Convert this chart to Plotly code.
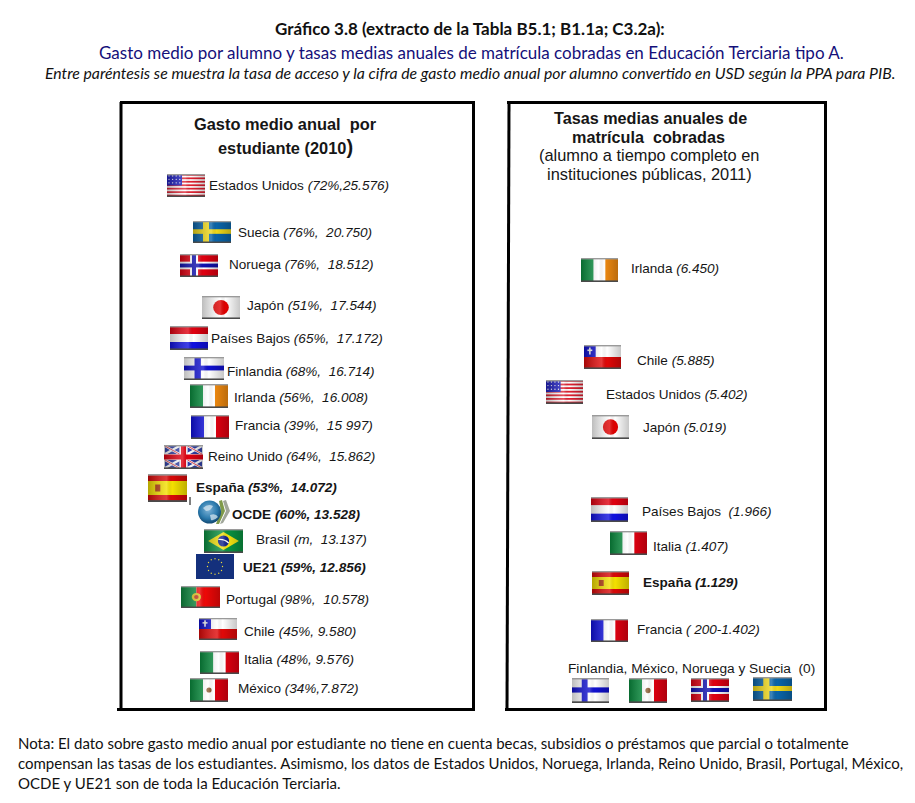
import base64
import math
import plotly.graph_objects as go

# ---- data ----
gasto_paises = ["Estados Unidos", "Suecia", "Noruega", "Japón", "Países Bajos", "Finlandia", "Irlanda",
                "Francia", "Reino Unido", "España", "OCDE", "Brasil", "UE21", "Portugal", "Chile", "Italia", "México"]
gasto_acceso = ["72%", "76%", "76%", "51%", "65%", "68%", "56%", "39%", "64%", "53%", "60%", "m", "59%", "98%", "45%", "48%", "34%"]
gasto_usd = ["25.576", "20.750", "18.512", "17.544", "17.172", "16.714", "16.008", "15 997", "15.862",
             "14.072", "13.528", "13.137", "12.856", "10.578", "9.580", "9.576", "7.872"]
tasa_paises = ["Irlanda", "Chile", "Estados Unidos", "Japón", "Países Bajos", "Italia", "España", "Francia"]
tasa_valor = ["6.450", "5.885", "5.402", "5.019", "1.966", "1.407", "1.129", " 200-1.402"]
tasa_cero = ["Finlandia", "México", "Noruega", "Suecia"]

titulo = "Gráfico 3.8 (extracto de la Tabla B5.1; B1.1a; C3.2a):"
subtitulo = "Gasto medio por alumno y tasas medias anuales de matrícula cobradas en Educación Terciaria tipo A."
aclaracion = "Entre paréntesis se muestra la tasa de acceso y la cifra de gasto medio anual por alumno convertido en USD según la PPA para PIB."
nota = ["Nota: El dato sobre gasto medio anual por estudiante no tiene en cuenta becas, subsidios o préstamos que parcial o totalmente",
        "compensan las tasas de los estudiantes. Asimismo, los datos de Estados Unidos, Noruega, Irlanda, Reino Unido, Brasil, Portugal, México,",
        "OCDE y UE21 son de toda la Educación Terciaria."]

# ---- layout (pixel places on the page axes) ----
# name: flag left, flag top, flag width, flag height, text x, text y, separator
NB = "\u00a0"
place_gasto = {
    "Estados Unidos": (167, 174, 38, 23, 209, 185, ","),
    "Suecia": (193, 221, 38, 22, 238, 232, ", " + NB),
    "Noruega": (180, 254, 38, 23, 229, 264, ", " + NB),
    "Japón": (202, 296, 38, 23, 247, 305, ", " + NB),
    "Países Bajos": (170, 326, 38, 24, 211, 338, ", " + NB),
    "Finlandia": (184, 357, 40, 23, 227, 371, ", " + NB),
    "Irlanda": (190, 384, 38, 24, 234, 397, ", " + NB),
    "Francia": (191, 415, 38, 24, 235, 425, ", " + NB),
    "Reino Unido": (164, 445, 39, 24, 208, 456, ", " + NB),
    "España": (148, 474, 39, 28, 196, 487, ", " + NB),
    "OCDE": (198, 499, 32, 26, 232, 514, ", "),
    "Brasil": (204, 529, 39, 24, 256, 539, ", " + NB),
    "UE21": (196, 554, 38, 25, 243, 567, ", "),
    "Portugal": (181, 586, 39, 22, 226, 599, ", " + NB),
    "Chile": (199, 618, 38, 22, 244, 631, ", "),
    "Italia": (200, 651, 39, 23, 244, 659, ", "),
    "México": (190, 678, 38, 24, 238, 688, ","),
}
place_tasa = {
    "Irlanda": (581, 258, 37, 24, 631, 268, " "),
    "Chile": (584, 345, 37, 24, 637, 360, " "),
    "Estados Unidos": (546, 380, 37, 24, 606, 394, " "),
    "Japón": (592, 415, 37, 24, 643, 427, " "),
    "Países Bajos": (591, 497, 37, 25, 642, 511, " " + NB),
    "Italia": (610, 531, 37, 24, 653, 546, " "),
    "España": (592, 571, 37, 24, 643, 582, " "),
    "Francia": (591, 619, 37, 23, 637, 629, " "),
}
place_cero = {"Finlandia": (572, 678, 37, 25), "México": (629, 678, 38, 25),
              "Noruega": (691, 678, 38, 24), "Suecia": (753, 677, 39, 24)}
BOLD = {"España", "OCDE", "UE21"}
INK = "#161616"
SANS = "Liberation Sans"
CAL = "Lato"
LABEL = 13.55


def rect(x, y, w, h, c):
    return f'<rect x="{x}" y="{y}" width="{w}" height="{h}" fill="{c}"/>'


def cross(bg, c1, c2=None):
    s = rect(0, 0, 38, 24, bg) + rect(10, 0, 8, 24, c1) + rect(0, 8, 38, 8, c1)
    if c2:
        s += rect(12, 0, 4, 24, c2) + rect(0, 10, 38, 4, c2)
    return s


def flag_body(n):
    R, G, B = "#e00010", "#0a9040", "#1010e0"
    if n == "Estados Unidos":
        s = rect(0, 0, 38, 24, "#ffffff")
        for i in range(0, 7):
            s += rect(0, i * 3.6, 38, 1.8, "#e02030")
        s += rect(0, 0, 15, 12, "#2020c0")
        for i in range(4):
            for j in range(3):
                s += f'<circle cx="{2 + i * 3.6}" cy="{2 + j * 3.6}" r="0.7" fill="#fff"/>'
        return s
    if n == "Suecia":
        return rect(0, 0, 38, 24, "#0a64a8") + rect(10, 0, 6, 24, "#f0d818") + rect(0, 9, 38, 5, "#f0d818")
    if n == "Noruega":
        return cross(R, "#ffffff", "#1010b0")
    if n == "Finlandia":
        return rect(0, 0, 38, 24, "#ffffff") + rect(10, 0, 6, 24, "#1010d0") + rect(0, 9, 38, 5, "#1010d0")
    if n == "Japón":
        return rect(0, 0, 38, 24, "#ffffff") + '<circle cx="19" cy="12" r="7.8" fill="#e00000"/>'
    if n == "Países Bajos":
        return rect(0, 0, 38, 8, R) + rect(0, 8, 38, 8, "#fff") + rect(0, 16, 38, 8, B)
    if n == "Irlanda":
        return rect(0, 0, 13, 24, G) + rect(13, 0, 12, 24, "#fff") + rect(25, 0, 13, 24, "#f08a10")
    if n == "Francia":
        return rect(0, 0, 13, 24, B) + rect(13, 0, 12, 24, "#fff") + rect(25, 0, 13, 24, R)
    if n == "Italia":
        return rect(0, 0, 13, 24, G) + rect(13, 0, 12, 24, "#fff") + rect(25, 0, 13, 24, R)
    if n == "México":
        return (rect(0, 0, 13, 24, G) + rect(13, 0, 12, 24, "#fff") + rect(25, 0, 13, 24, R)
                + '<circle cx="19" cy="12" r="2.6" fill="#8a5a30"/>')
    if n == "Reino Unido":
        s = rect(0, 0, 38, 24, "#ffffff")
        for x, y in [(1, 1), (23, 1), (1, 15), (23, 15)]:
            s += rect(x, y, 14, 8, "#3040a8")
            s += f'<path d="M{x} {y}l14 8M{x} {y + 8}l14 -8" stroke="#fff" stroke-width="2.2"/>'
            s += f'<path d="M{x} {y}l14 8" stroke="#e02030" stroke-width="0.8"/>'
        return s + rect(16.5, 0, 5, 24, R) + rect(0, 9.5, 38, 5, R)
    if n == "España":
        return (rect(0, 0, 38, 6, "#d80808") + rect(0, 6, 38, 12, "#f4e000") + rect(0, 18, 38, 6, "#d80808")
                + rect(7, 9, 5, 6, "#b03a10"))
    if n == "Brasil":
        return (rect(0, 0, 38, 24, "#0a9040") + '<path d="M19 3L34 12L19 21L4 12Z" fill="#f2e010"/>'
                + '<circle cx="19" cy="12" r="5.5" fill="#10208a"/>'
                + '<path d="M14 10.5Q20 10 24 14" stroke="#fff" stroke-width="1.2" fill="none"/>')
    if n == "Portugal":
        return (rect(0, 0, 15, 24, "#0f8a40") + rect(15, 0, 23, 24, "#ee0808")
                + '<circle cx="15" cy="12" r="4.5" fill="#d8c020"/><circle cx="15" cy="12" r="2.2" fill="#c03020"/>')
    if n == "Chile":
        return (rect(0, 0, 38, 12, "#ffffff") + rect(0, 12, 38, 12, "#e00808") + rect(0, 0, 12, 12, "#1010d0")
                + rect(5.2, 2.5, 1.6, 7, "#fff") + rect(3.5, 4.5, 5, 1.6, "#fff"))
    return rect(0, 0, 38, 24, "#ccc")


def flag_uri(n):
    if n == "UE21":
        inner = rect(0, 0, 38, 24, "#14307c")
        for k in range(12):
            a = k * math.pi / 6
            inner += f'<circle cx="{19 + 7.5 * math.cos(a):.2f}" cy="{12 + 7.5 * math.sin(a):.2f}" r="0.7" fill="#e8d840"/>'
        svg = f'<svg xmlns="http://www.w3.org/2000/svg" width="152" height="96" viewBox="0 0 38 24" preserveAspectRatio="none">{inner}</svg>'
    elif n == "OCDE":
        svg = ('<svg xmlns="http://www.w3.org/2000/svg" width="128" height="104" viewBox="0 0 32 26" preserveAspectRatio="none">'
               '<defs><radialGradient id="g" cx="0.45" cy="0.4" r="0.65"><stop offset="0" stop-color="#7fb4d8"/>'
               '<stop offset="0.6" stop-color="#2a79ac"/><stop offset="1" stop-color="#0e3f66"/></radialGradient></defs>'
               '<path d="M21 2L24 1L27 12L21 25L18 25L23 12Z" fill="#7f9a4a"/><path d="M25 2L28 1L32 12L25 24L22 25L28 12Z" fill="#a0a69a"/>'
               '<circle cx="11.5" cy="13" r="11.5" fill="url(#g)"/>'
               '<path d="M5 9Q10 4 15 7Q13 12 8 12Z M12 16Q18 14 20 18Q16 22 13 21Z" fill="#d6e6ef" opacity="0.75"/></svg>')
    else:
        svg = ('<svg xmlns="http://www.w3.org/2000/svg" width="152" height="96" viewBox="0 0 38 24" preserveAspectRatio="none">'
               '<defs><linearGradient id="s" x1="0" x2="1" y1="0" y2="0">'
               '<stop offset="0" stop-color="#000" stop-opacity="0.26"/><stop offset="0.48" stop-color="#fff" stop-opacity="0.2"/>'
               '<stop offset="0.62" stop-color="#000" stop-opacity="0"/><stop offset="1" stop-color="#000" stop-opacity="0.22"/>'
               '</linearGradient></defs>'
               + flag_body(n)
               + '<rect width="38" height="24" fill="url(#s)"/>'
               + rect(0, 0, 38, 1.4, "#9a9a9a") + rect(0, 22.4, 38, 1.6, "#4a4a4a") + '</svg>')
    return "data:image/svg+xml;base64," + base64.b64encode(svg.encode("utf-8")).decode()


images, ann = [], []


def add_flag(n, x, y, w, h):
    images.append(dict(source=flag_uri(n), xref="x", yref="y", x=x, y=y, sizex=w, sizey=h,
                       xanchor="left", yanchor="top", sizing="stretch", layer="above"))


def text(x, y, t, size=LABEL, color=INK, font=SANS, anchor="left"):
    ann.append(dict(x=x, y=y, xref="x", yref="y", text=t, showarrow=False, xanchor=anchor, yanchor="middle",
                    align=anchor, borderpad=0, borderwidth=0, font=dict(family=font, size=size, color=color)))


text(470, 28, f"<b>{titulo}</b>", 17, "#111111", CAL, "center")
text(471, 52, subtitulo, 17, "#14107a", CAL, "center")
text(470, 72, f"<i>{aclaracion}</i>", 15.8, "#111111", CAL, "center")
for y, line_txt in zip((743, 763, 783), nota):
    text(18, y, line_txt, 15, "#111111", CAL)

# panel titles
text(285, 124, "<b>Gasto medio anual " + NB + "por</b>", 16.4, anchor="center")
text(285, 147, "<b>estudiante (2010</b><span style='font-size:20px'><b>)</b></span>", 16.4, anchor="center")
text(650, 118, "<b>Tasas medias anuales de</b>", 16.2, anchor="center")
text(648, 137, "<b>matrícula " + NB + "cobradas</b>", 16.2, anchor="center")
text(649, 155, "(alumno a tiempo completo en", 16.4, anchor="center")
text(649, 174, "instituciones públicas, 2011)", 16.4, anchor="center")

for n, acc, usd in zip(gasto_paises, gasto_acceso, gasto_usd):
    fx, fy, fw, fh, tx, ty, sep = place_gasto[n]
    add_flag(n, fx, fy, fw, fh)
    val = f"<i>({acc}{sep}{usd})</i>"
    text(tx, ty + 0.5, f"<b>{n} {val}</b>" if n in BOLD else f"{n} {val}")

for n, v in zip(tasa_paises, tasa_valor):
    fx, fy, fw, fh, tx, ty, sep = place_tasa[n]
    add_flag(n, fx, fy, fw, fh)
    val = f"<i>({v.replace(' ', NB) if v.startswith(' ') else v})</i>"
    text(tx, ty + 0.5, f"<b>{n}{sep}{val}</b>" if n in BOLD else f"{n}{sep}{val}")

text(568, 668, ", ".join(tasa_cero[:3]) + " y " + tasa_cero[3] + " " + NB + "(0)", 13.7)
for n in tasa_cero:
    add_flag(n, *place_cero[n])


def line(x0, y0, x1, y1, w=3):
    return dict(type="line", xref="x", yref="y", x0=x0, y0=y0, x1=x1, y1=y1, line=dict(color="#000000", width=w))


shapes = [
    line(120, 102.5, 475, 102.5), line(473.5, 102, 473.5, 711), line(117, 709.5, 475, 709.5), line(121, 102, 121, 711),
    line(507, 102.5, 827, 102.5), line(825.5, 102, 825.5, 711), line(505, 709.5, 827, 709.5), line(509, 102, 507, 711),
    line(190, 497, 190, 505, 1),
]

fig = go.Figure()
fig.add_trace(go.Scatter(x=[0, 915], y=[0, 803], mode="markers", marker=dict(opacity=0), hoverinfo="skip", showlegend=False))
fig.update_layout(
    width=915, height=803, margin=dict(l=0, r=0, t=0, b=0), paper_bgcolor="white", plot_bgcolor="white",
    showlegend=False, images=images, annotations=ann, shapes=shapes,
    xaxis=dict(range=[0, 915], visible=False, fixedrange=True),
    yaxis=dict(range=[803, 0], visible=False, fixedrange=True),
)
fig.write_html("out.html", post_script="document.body.style.margin='0';", config={"displayModeBar": False})
